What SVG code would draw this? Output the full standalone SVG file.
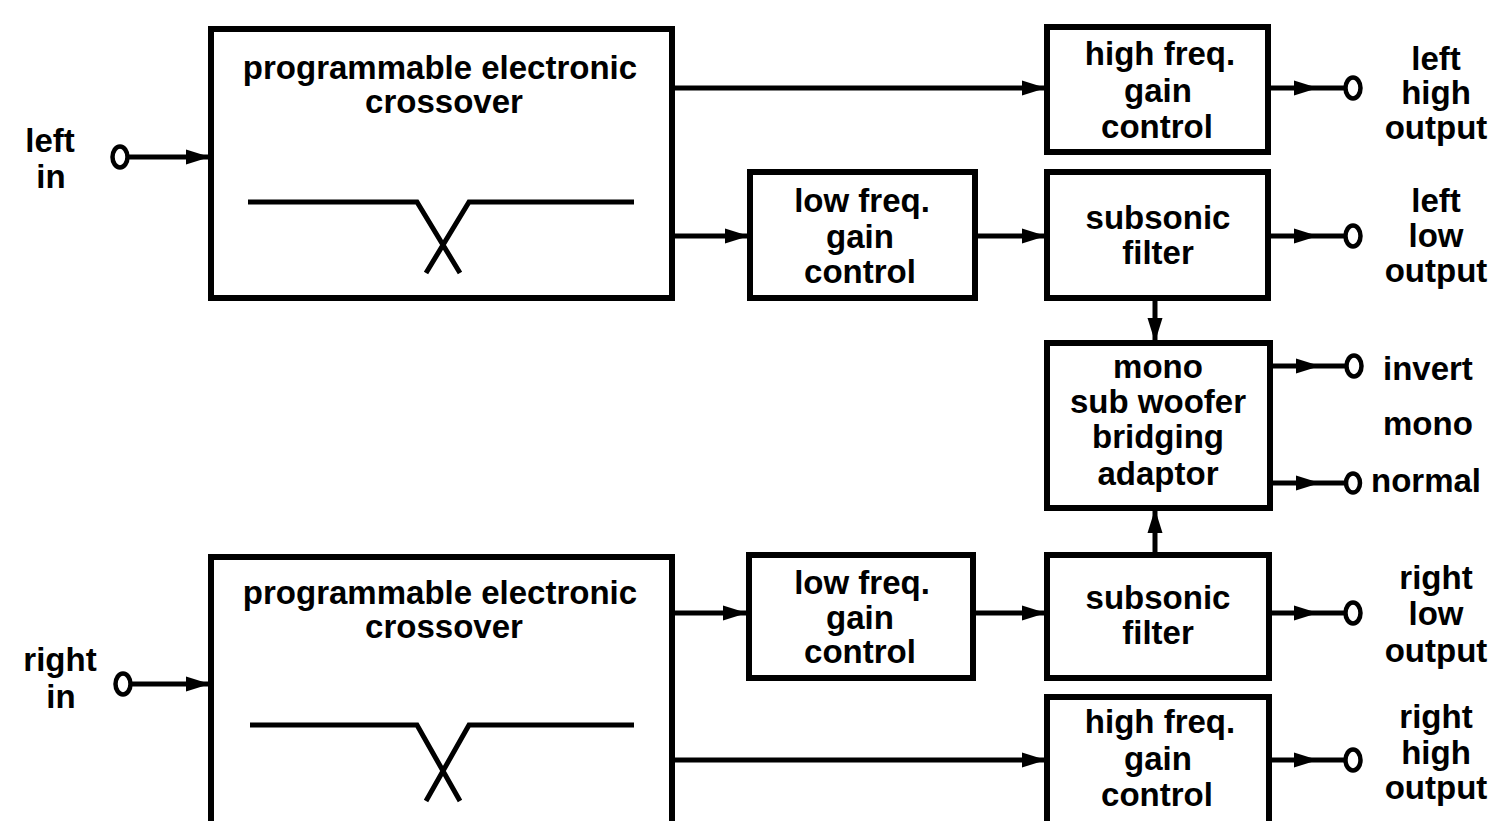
<svg xmlns="http://www.w3.org/2000/svg" width="1497" height="821" viewBox="0 0 1497 821">
<style>
.box{fill:#fff;stroke:#000;stroke-width:6}
.ln{fill:none;stroke:#000;stroke-width:5}
.cv{fill:none;stroke:#000;stroke-width:5;stroke-linejoin:miter}
.term{fill:#fff;stroke:#000;stroke-width:4.5}
text{font-family:"Liberation Sans",Arial,sans-serif;font-weight:bold;font-size:33px;fill:#000}
.c{text-anchor:middle}
</style>
<defs>
<marker id="ah" markerUnits="userSpaceOnUse" viewBox="0 0 24 18" refX="24" refY="9" markerWidth="24" markerHeight="18" orient="auto">
<path d="M0,1.5 L24,9 L0,16.5 z" fill="#000"/>
</marker>
</defs>
<rect width="1497" height="821" fill="#fff"/>

<g id="connectors">
<path class="ln" d="M128 157 L210 157" marker-end="url(#ah)"/>
<path class="ln" d="M131 684 L210 684" marker-end="url(#ah)"/>
<path class="ln" d="M672 88 L1046 88" marker-end="url(#ah)"/>
<path class="ln" d="M672 236 L749 236" marker-end="url(#ah)"/>
<path class="ln" d="M975 236 L1046 236" marker-end="url(#ah)"/>
<path class="ln" d="M672 613 L747 613" marker-end="url(#ah)"/>
<path class="ln" d="M973 613 L1046 613" marker-end="url(#ah)"/>
<path class="ln" d="M672 760 L1046 760" marker-end="url(#ah)"/>
<path class="ln" d="M1155 298 L1155 342" marker-end="url(#ah)"/>
<path class="ln" d="M1155 553 L1155 509" marker-end="url(#ah)"/>
<path class="ln" d="M1268 88 L1318 88 L1345 88" marker-mid="url(#ah)"/>
<path class="ln" d="M1268 236 L1318 236 L1345 236" marker-mid="url(#ah)"/>
<path class="ln" d="M1270 366 L1320 366 L1346 366" marker-mid="url(#ah)"/>
<path class="ln" d="M1270 483 L1320 483 L1345 483" marker-mid="url(#ah)"/>
<path class="ln" d="M1269 613 L1318 613 L1345 613" marker-mid="url(#ah)"/>
<path class="ln" d="M1269 760 L1318 760 L1345 760" marker-mid="url(#ah)"/>
</g>

<g id="left-in">
<ellipse class="term" cx="120" cy="157" rx="7.5" ry="10.5"/>
<text class="c" x="50" y="152">left</text>
<text class="c" x="51" y="188">in</text>
</g>
<g id="right-in">
<ellipse class="term" cx="123" cy="684" rx="7.5" ry="10.5"/>
<text class="c" x="60" y="671">right</text>
<text class="c" x="61" y="708">in</text>
</g>

<g id="crossover-left">
<rect class="box" x="211" y="29" width="461" height="269"/>
<text class="c" x="440" y="79">programmable electronic</text>
<text class="c" x="444" y="113">crossover</text>
<path class="cv" d="M248 202 L417 202 L460 273"/>
<path class="cv" d="M634 202 L469 202 L426 273"/>
</g>
<g id="crossover-right">
<rect class="box" x="211" y="557" width="461" height="280"/>
<text class="c" x="440" y="604">programmable electronic</text>
<text class="c" x="444" y="638">crossover</text>
<path class="cv" d="M250 725 L417 725 L460 801"/>
<path class="cv" d="M634 725 L469 725 L426 801"/>
</g>

<g id="hf-left">
<rect class="box" x="1047" y="27" width="221" height="125"/>
<text class="c" x="1160" y="65">high freq.</text>
<text class="c" x="1158" y="102">gain</text>
<text class="c" x="1157" y="138">control</text>
</g>
<g id="lf-left">
<rect class="box" x="750" y="172" width="225" height="126"/>
<text class="c" x="862" y="212">low freq.</text>
<text class="c" x="860" y="248">gain</text>
<text class="c" x="860" y="283">control</text>
</g>
<g id="sub-left">
<rect class="box" x="1047" y="172" width="221" height="126"/>
<text class="c" x="1158" y="229">subsonic</text>
<text class="c" x="1158" y="264">filter</text>
</g>
<g id="mono">
<rect class="box" x="1047" y="343" width="223" height="165"/>
<text class="c" x="1158" y="378">mono</text>
<text class="c" x="1158" y="413">sub woofer</text>
<text class="c" x="1158" y="448">bridging</text>
<text class="c" x="1158" y="485">adaptor</text>
</g>
<g id="lf-right">
<rect class="box" x="749" y="555" width="224" height="123"/>
<text class="c" x="862" y="594">low freq.</text>
<text class="c" x="860" y="629">gain</text>
<text class="c" x="860" y="663">control</text>
</g>
<g id="sub-right">
<rect class="box" x="1047" y="555" width="222" height="123"/>
<text class="c" x="1158" y="609">subsonic</text>
<text class="c" x="1158" y="644">filter</text>
</g>
<g id="hf-right">
<rect class="box" x="1047" y="697" width="222" height="140"/>
<text class="c" x="1160" y="733">high freq.</text>
<text class="c" x="1158" y="770">gain</text>
<text class="c" x="1157" y="806">control</text>
</g>

<g id="out-left-high">
<ellipse class="term" cx="1353" cy="88" rx="7.5" ry="10.5"/>
<text class="c" x="1436" y="70">left</text>
<text class="c" x="1436" y="104">high</text>
<text class="c" x="1436" y="139">output</text>
</g>
<g id="out-left-low">
<ellipse class="term" cx="1353" cy="236" rx="7.5" ry="10.5"/>
<text class="c" x="1436" y="212">left</text>
<text class="c" x="1436" y="247">low</text>
<text class="c" x="1436" y="282">output</text>
</g>
<g id="out-invert">
<ellipse class="term" cx="1354" cy="366" rx="7.5" ry="10.5"/>
<text x="1383" y="380">invert</text>
</g>
<text x="1383" y="435">mono</text>
<g id="out-normal">
<ellipse class="term" cx="1353" cy="483" rx="7" ry="9.5"/>
<text x="1371" y="492">normal</text>
</g>
<g id="out-right-low">
<ellipse class="term" cx="1353" cy="613" rx="7.5" ry="10.5"/>
<text class="c" x="1436" y="589">right</text>
<text class="c" x="1436" y="625">low</text>
<text class="c" x="1436" y="662">output</text>
</g>
<g id="out-right-high">
<ellipse class="term" cx="1353" cy="760" rx="7.5" ry="10.5"/>
<text class="c" x="1436" y="728">right</text>
<text class="c" x="1436" y="764">high</text>
<text class="c" x="1436" y="799">output</text>
</g>
</svg>
